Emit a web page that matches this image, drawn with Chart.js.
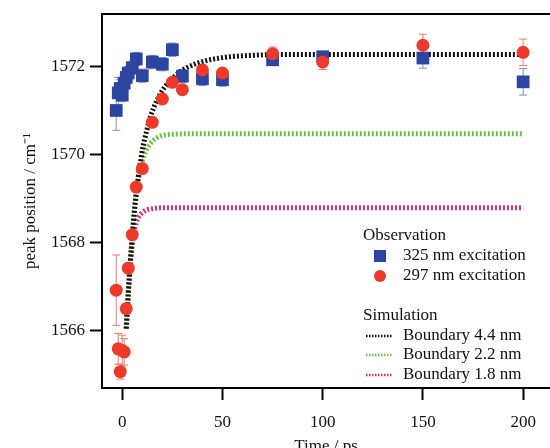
<!DOCTYPE html>
<html>
<head>
<meta charset="utf-8">
<script src="https://cdn.jsdelivr.net/npm/chart.js@4.4.1/dist/chart.umd.min.js"></script>
<style>
  html, body { margin: 0; padding: 0; background: #fff; }
</style>
</head>
<body>
<canvas id="chart" width="550" height="448"></canvas>
<script>
// observation: 325 nm excitation (blue squares)
const times325 = [-3, -2, -1, 0, 1, 2, 3, 5, 7, 10, 15, 20, 25, 30, 40, 50, 75, 100, 150, 200];
const peak325 = [1571.0, 1571.4, 1571.5, 1571.35, 1571.62, 1571.75, 1571.85, 1571.97, 1572.17, 1571.79,
                 1572.1, 1572.05, 1572.38, 1571.78, 1571.72, 1571.7, 1572.15, 1572.22, 1572.19, 1571.65];
const err325 = [0.45, 0.35, 0.2, 0.15, 0.15, 0.15, 0.15, 0.15, 0.15, 0.15,
                0.15, 0.15, 0.15, 0.15, 0.15, 0.15, 0.12, 0.12, 0.23, 0.3];

// observation: 297 nm excitation (red circles)
const times297 = [-3, -2, -1, 0, 1, 2, 3, 5, 7, 10, 15, 20, 25, 30, 40, 50, 75, 100, 150, 200];
const peak297 = [1566.92, 1565.59, 1565.07, 1565.55, 1565.52, 1566.5, 1567.42, 1568.18, 1569.26, 1569.68,
                 1570.73, 1571.26, 1571.64, 1571.47, 1571.92, 1571.85, 1572.29, 1572.1, 1572.48, 1572.32];
const err297 = [0.8, 0.35, 0.17, 0.35, 0.3, 0.1, 0.1, 0.1, 0.1, 0.1,
                0.1, 0.1, 0.1, 0.1, 0.1, 0.1, 0.15, 0.17, 0.25, 0.3];

// simulation curves
const sim44T = [2, 3, 4, 5, 6, 7, 8, 9, 10, 12, 14, 17, 20, 24, 28, 33, 40, 50, 60, 80, 200];
const sim44 = [1566.05, 1566.85, 1567.55, 1568.15, 1568.7, 1569.15, 1569.5, 1569.8, 1570.1, 1570.5, 1570.85,
               1571.2, 1571.45, 1571.68, 1571.85, 1571.99, 1572.11, 1572.2, 1572.24, 1572.27, 1572.27];
const sim22T = [2, 3, 4, 5, 6, 7, 8, 9, 10, 12, 14, 17, 20, 25, 35, 200];
const sim22 = [1566.05, 1566.85, 1567.55, 1568.15, 1568.65, 1569.05, 1569.4, 1569.65, 1569.85, 1570.1,
               1570.25, 1570.37, 1570.43, 1570.46, 1570.47, 1570.47];
const sim18T = [2, 3, 4, 5, 6, 7, 8, 10, 12, 15, 20, 200];
const sim18 = [1566.05, 1566.85, 1567.5, 1567.95, 1568.25, 1568.45, 1568.57, 1568.68, 1568.74, 1568.77, 1568.79, 1568.79];

const xTicks = [0, 50, 100, 150, 200];
const yTicks = [1566, 1568, 1570, 1572];

const BLUE = '#2b45a0';
const RED = '#ef3a2b';
const BLACK = '#111111';
const GREEN = '#6dbf4a';
const MAGENTA = '#d3306c';
const FONT = '"Liberation Serif", "Times New Roman", serif';

function pts(xs, ys) {
  return xs.map((x, i) => ({ x: x, y: ys[i] }));
}

// error bars behind the markers, top frame line and legend on top
const extras = {
  id: 'extras',
  beforeDatasetsDraw(chart) {
    const ctx = chart.ctx;
    const xs = chart.scales.x, ys = chart.scales.y;
    const sets = [
      { t: times325, v: peak325, e: err325, c: '#7d8cc9' },
      { t: times297, v: peak297, e: err297, c: '#f4796f' }
    ];
    ctx.save();
    ctx.lineWidth = 1;
    sets.forEach(s => {
      ctx.strokeStyle = s.c;
      s.t.forEach((t, i) => {
        const px = xs.getPixelForValue(t);
        const top = ys.getPixelForValue(s.v[i] + s.e[i]);
        const bot = ys.getPixelForValue(s.v[i] - s.e[i]);
        ctx.beginPath();
        ctx.moveTo(px, top); ctx.lineTo(px, bot);
        ctx.moveTo(px - 4, top); ctx.lineTo(px + 4, top);
        ctx.moveTo(px - 4, bot); ctx.lineTo(px + 4, bot);
        ctx.stroke();
      });
    });
    ctx.restore();
  },
  afterDraw(chart) {
    const ctx = chart.ctx;
    const a = chart.chartArea;
    ctx.save();
    // top frame
    ctx.strokeStyle = '#000';
    ctx.lineWidth = 2;
    ctx.beginPath();
    ctx.moveTo(a.left - 1, a.top);
    ctx.lineTo(a.right, a.top);
    ctx.stroke();

    // legend
    ctx.font = '17px ' + FONT;
    ctx.fillStyle = '#111';
    ctx.textBaseline = 'middle';
    ctx.textAlign = 'left';
    ctx.fillText('Observation', 363, 236);
    ctx.fillStyle = BLUE;
    ctx.fillRect(374, 250, 12, 12);
    ctx.fillStyle = RED;
    ctx.beginPath();
    ctx.arc(380, 276, 6, 0, Math.PI * 2);
    ctx.fill();
    ctx.fillStyle = '#111';
    ctx.fillText('325 nm excitation', 403, 256);
    ctx.fillText('297 nm excitation', 403, 276);
    ctx.fillText('Simulation', 363, 316);
    const sims = [['Boundary 4.4 nm', BLACK, 336], ['Boundary 2.2 nm', GREEN, 355], ['Boundary 1.8 nm', MAGENTA, 375]];
    sims.forEach(s => {
      ctx.strokeStyle = s[1];
      ctx.lineWidth = 2.5;
      ctx.setLineDash([1.5, 1.5]);
      ctx.beginPath();
      ctx.moveTo(366, s[2]); ctx.lineTo(392, s[2]);
      ctx.stroke();
      ctx.setLineDash([]);
      ctx.fillText(s[0], 403, s[2]);
    });
    ctx.restore();
  }
};

new Chart(document.getElementById('chart'), {
  type: 'scatter',
  data: {
    datasets: [
      {
        label: '297 nm excitation',
        data: pts(times297, peak297),
        pointStyle: 'circle',
        pointRadius: 6.5,
        pointBackgroundColor: RED,
        pointBorderWidth: 0,
        showLine: false
      },
      {
        label: '325 nm excitation',
        data: pts(times325, peak325),
        pointStyle: 'rect',
        pointRadius: 9,
        pointBackgroundColor: BLUE,
        pointBorderWidth: 0,
        showLine: false
      },
      {
        label: 'Boundary 4.4 nm',
        data: pts(sim44T, sim44),
        showLine: true,
        borderColor: BLACK,
        borderWidth: 5,
        borderDash: [2, 2],
        borderCapStyle: 'butt',
        cubicInterpolationMode: 'monotone',
        pointRadius: 0
      },
      {
        label: 'Boundary 2.2 nm',
        data: pts(sim22T, sim22),
        showLine: true,
        borderColor: GREEN,
        borderWidth: 5,
        borderDash: [2, 2],
        borderCapStyle: 'butt',
        cubicInterpolationMode: 'monotone',
        pointRadius: 0
      },
      {
        label: 'Boundary 1.8 nm',
        data: pts(sim18T, sim18),
        showLine: true,
        borderColor: MAGENTA,
        borderWidth: 5,
        borderDash: [2, 2],
        borderCapStyle: 'butt',
        cubicInterpolationMode: 'monotone',
        pointRadius: 0
      }
    ]
  },
  options: {
    responsive: false,
    animation: false,
    layout: { autoPadding: false, padding: { top: 14, right: 0, bottom: 0, left: 0 } },
    plugins: {
      legend: { display: false },
      tooltip: { enabled: false }
    },
    scales: {
      x: {
        type: 'linear',
        min: -10.1,
        max: 213.4,
        afterFit(scale) {
          scale.height = 60;
          scale.paddingLeft = 0;
          scale.paddingRight = 0;
        },
        afterBuildTicks(scale) { scale.ticks = xTicks.map(v => ({ value: v })); },
        border: { display: true, color: '#000', width: 2 },
        grid: { drawOnChartArea: false, drawTicks: true, tickLength: 12, tickWidth: 2, tickColor: '#000' },
        ticks: { color: '#111', font: { family: FONT, size: 17 }, padding: 12, maxRotation: 0,
                 callback: v => String(v) },
        title: {
          display: true,
          text: 'Time / ps',
          color: '#111',
          font: { family: FONT, size: 17 },
          padding: { top: 0, bottom: -9 }
        }
      },
      y: {
        type: 'linear',
        min: 1564.70,
        max: 1573.19,
        afterFit(scale) {
          scale.width = 102;
          scale.paddingTop = 0;
          scale.paddingBottom = 0;
        },
        afterBuildTicks(scale) { scale.ticks = yTicks.map(v => ({ value: v })); },
        border: { display: true, color: '#000', width: 2 },
        grid: { drawOnChartArea: false, drawTicks: true, tickLength: 12, tickWidth: 2, tickColor: '#000' },
        ticks: { color: '#111', font: { family: FONT, size: 17 }, padding: 5,
                 callback: v => String(v) },
        title: {
          display: true,
          text: 'peak position / cm⁻¹',
          color: '#111',
          font: { family: FONT, size: 17 },
          padding: { top: 20, bottom: 0 }
        }
      }
    }
  },
  plugins: [extras]
});
</script>
</body>
</html>
